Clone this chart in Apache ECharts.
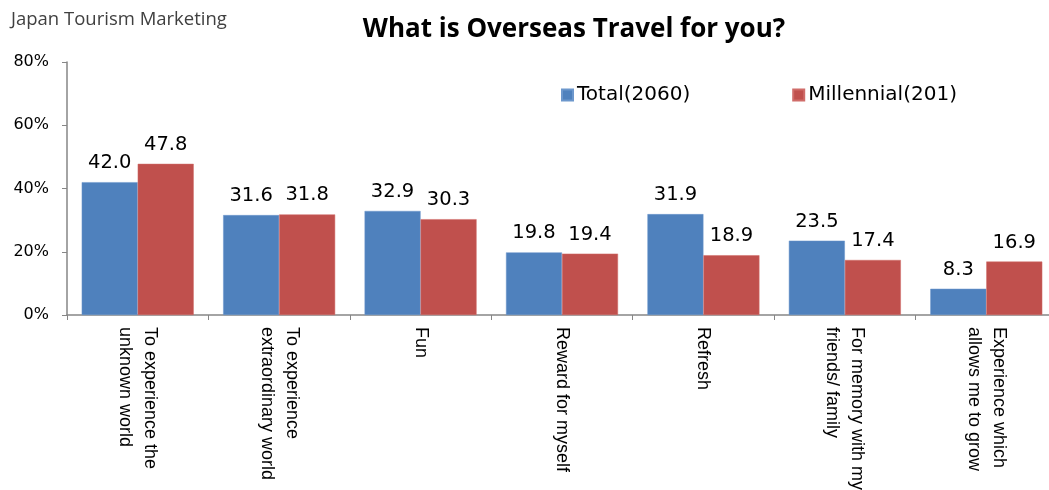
<!DOCTYPE html>
<html>
<head>
<meta charset="utf-8">
<script src="https://cdn.jsdelivr.net/npm/echarts@6/dist/echarts.min.js"></script>
<style>
  html, body { margin: 0; padding: 0; background: #fff; overflow: hidden; }
  #chart { width: 1049px; height: 490px; }
</style>
</head>
<body>
<div id="chart"></div>
<script>
// Survey answers: what overseas travel means to respondents (%)
var categories = [
  'To experience the\nunknown world',
  'To experience\nextraordinary world',
  'Fun',
  'Reward for myself',
  'Refresh',
  'For memory with my\nfriends/ family',
  'Experience which\nallows me to grow'
];
var totalValues = [42.0, 31.6, 32.9, 19.8, 31.9, 23.5, 8.3];
var millennialValues = [47.8, 31.8, 30.3, 19.4, 18.9, 17.4, 16.9];
var seriesNames = ['Total(2060)', 'Millennial(201)'];
var yTicks = { min: 0, max: 80, interval: 20 };

var chart = echarts.init(document.getElementById('chart'));

var labelStyle = {
  show: true,
  position: 'top',
  distance: 9,
  color: '#000',
  fontFamily: 'DejaVu Sans',
  fontSize: 19.5,
  formatter: function (p) { return p.value.toFixed(1); }
};

chart.setOption({
  animation: false,
  title: [
    {
      text: 'Japan Tourism Marketing',
      left: 6, top: 5,
      textStyle: { fontFamily: 'Open Sans', fontSize: 18.5, fontWeight: 'normal', color: '#404040' }
    },
    {
      text: 'What is Overseas Travel for you?',
      left: 569, top: 12, textAlign: 'center',
      textStyle: { fontFamily: 'Open Sans', fontSize: 26, fontWeight: 'bold', color: '#000' }
    }
  ],
  legend: {
    data: seriesNames,
    left: 556, top: 80,
    itemWidth: 11, itemHeight: 11, itemGap: 102,
    icon: 'rect',
    textStyle: { fontFamily: 'DejaVu Sans', fontSize: 20, color: '#000', padding: [0, 0, 0, -1] }
  },
  grid: { left: 67, top: 62, width: 990, height: 253, outerBoundsMode: 'none', containLabel: false },
  xAxis: {
    type: 'category',
    data: categories,
    axisLine: { lineStyle: { color: '#868686', width: 1.5 } },
    axisTick: { show: true, length: 5, lineStyle: { color: '#868686' } },
    axisLabel: {
      rotate: -90,
      margin: 12,
      interval: 0,
      color: '#000',
      fontFamily: 'Liberation Sans Narrow, Arial Narrow, Liberation Sans, sans-serif',
      fontSize: 18,
      lineHeight: 25
    }
  },
  yAxis: {
    type: 'value',
    min: yTicks.min, max: yTicks.max, interval: yTicks.interval,
    splitLine: { show: false },
    axisLine: { show: true, lineStyle: { color: '#868686', width: 1.5 } },
    axisTick: { show: true, length: 5, lineStyle: { color: '#868686' } },
    axisLabel: {
      formatter: '{value}%',
      color: '#000',
      fontFamily: 'DejaVu Sans',
      fontSize: 16,
      margin: 18
    }
  },
  series: [
    {
      name: seriesNames[0],
      type: 'bar',
      data: totalValues,
      barWidth: 56,
      barGap: '0%',
      itemStyle: { color: '#4F81BD', borderColor: '#6C97CC', borderWidth: 0.5 },
      label: labelStyle
    },
    {
      name: seriesNames[1],
      type: 'bar',
      data: millennialValues,
      barWidth: 56,
      barGap: '0%',
      itemStyle: { color: '#C0504D', borderColor: '#D06C69', borderWidth: 0.5 },
      label: labelStyle
    }
  ]
});
</script>
</body>
</html>
